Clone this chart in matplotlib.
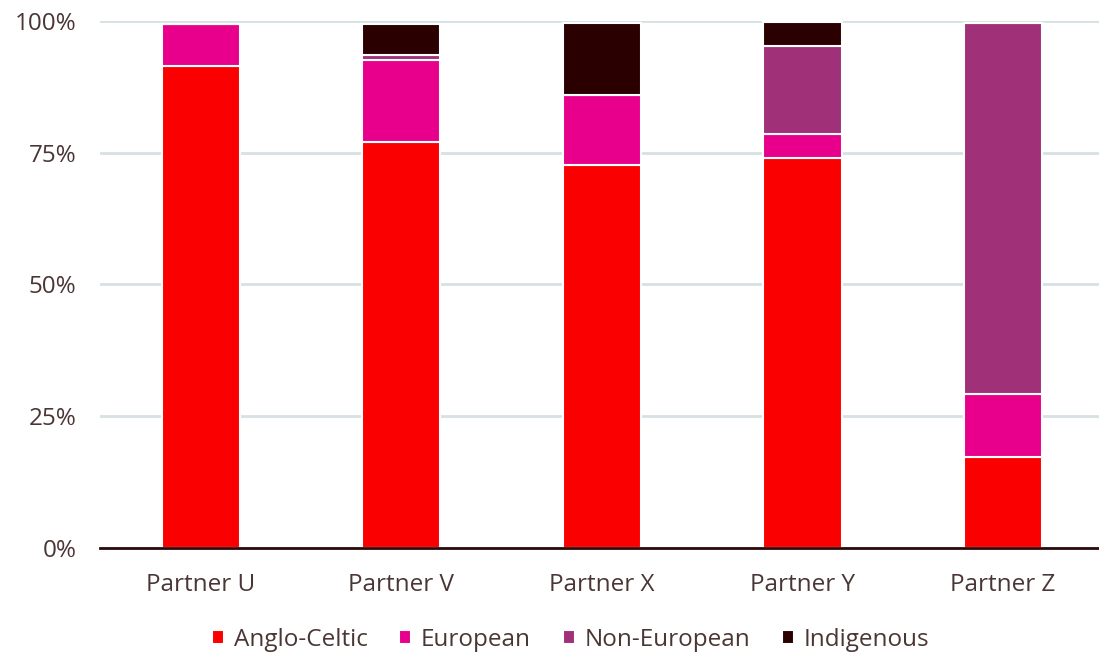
import numpy as np
import matplotlib.pyplot as plt
from matplotlib.ticker import PercentFormatter

plt.rcParams['font.family'] = ['Open Sans', 'DejaVu Sans']

partners = ['Partner U', 'Partner V', 'Partner X', 'Partner Y', 'Partner Z']
anglo_celtic = [91.5, 77.0, 72.6, 74.0, 17.3]
european = [7.9, 15.6, 13.4, 4.6, 11.9]
non_european = [0.0, 1.0, 0.0, 16.7, 70.4]
indigenous = [0.0, 5.8, 13.6, 4.4, 0.0]

series = [('Anglo-Celtic', anglo_celtic, '#fa0000'),
          ('European', european, '#e8008c'),
          ('Non-European', non_european, '#a03178'),
          ('Indigenous', indigenous, '#2b0000')]

text_col = '#4b3636'
fs = 17.5

fig = plt.figure(figsize=(10.99, 6.53), dpi=100)
ax = fig.add_axes([0.091, 0.161, 0.909, 0.807])

x = np.arange(len(partners))
bottom = np.zeros(len(partners))
for name, vals, col in series:
    vals = np.array(vals)
    ax.bar(x, vals, 0.39, bottom=bottom, color=col, edgecolor='white',
           linewidth=1.5, label=name, zorder=3)
    bottom += vals

ax.set_xlim(-0.503, 4.479)
ax.set_ylim(0, 100)
ax.set_yticks([0, 25, 50, 75, 100])
ax.yaxis.set_major_formatter(PercentFormatter(decimals=0))
ax.set_xticks(x)
ax.set_xticklabels(partners)
ax.grid(axis='y', color='#d6e1e4', linewidth=2, zorder=0)
for s in ['top', 'right', 'left']:
    ax.spines[s].set_visible(False)
ax.spines['bottom'].set_color('#2b0a0a')
ax.spines['bottom'].set_linewidth(2)
ax.spines['bottom'].set_zorder(4)
ax.tick_params(axis='both', length=0, labelsize=fs, labelcolor=text_col)
ax.tick_params(axis='x', pad=18)
ax.tick_params(axis='y', pad=17)

ax.legend(loc='center', bbox_to_anchor=(0.471, -0.174), ncol=4, frameon=False,
          fontsize=fs, labelcolor=text_col, handlelength=0.5, handleheight=0.5,
          handletextpad=0.4, columnspacing=1.3)

fig.savefig('out.png', dpi=100)
